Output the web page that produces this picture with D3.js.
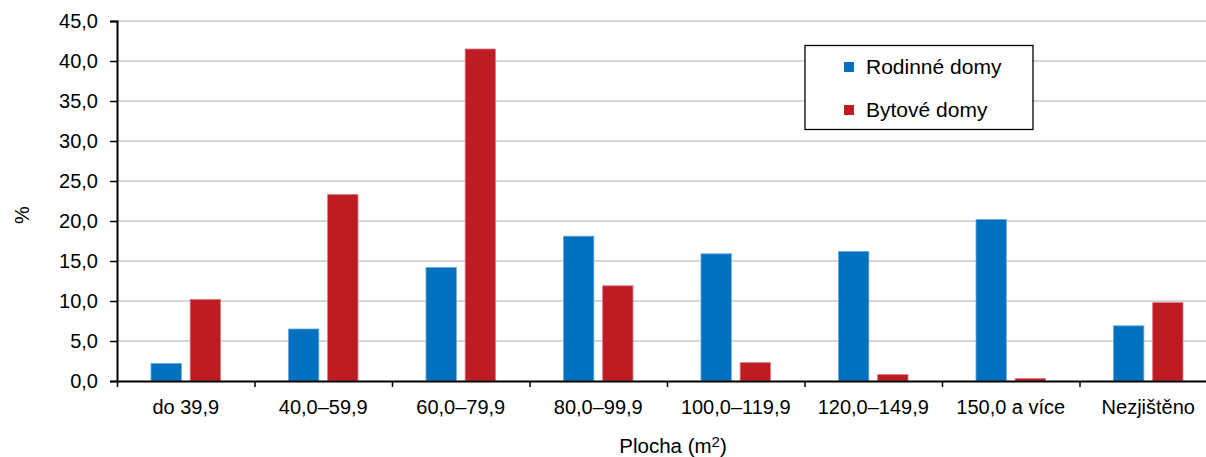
<!DOCTYPE html>
<html>
<head>
<meta charset="utf-8">
<script src="https://cdn.jsdelivr.net/npm/d3@7"></script>
<style>
  html, body { margin: 0; padding: 0; background: #fff; }
  svg { display: block; }
  text { font-family: "Liberation Sans", Arial, sans-serif; fill: #000; }
</style>
</head>
<body>
<svg id="chart" width="1206" height="457"></svg>
<script>
const categories = ["do 39,9", "40,0–59,9", "60,0–79,9", "80,0–99,9", "100,0–119,9", "120,0–149,9", "150,0 a více", "Nezjištěno"];
const seriesNames = ["Rodinné domy", "Bytové domy"];
const rodinneDomy = [2.2, 6.5, 14.2, 18.1, 15.9, 16.2, 20.2, 6.9];
const bytoveDomy = [10.2, 23.3, 41.5, 11.9, 2.3, 0.8, 0.3, 9.8];
const yTicks = [0, 5, 10, 15, 20, 25, 30, 35, 40, 45];
const yTickLabels = ["0,0", "5,0", "10,0", "15,0", "20,0", "25,0", "30,0", "35,0", "40,0", "45,0"];
const colors = ["#0070BF", "#BE1C23"];
const strokeColors = ["#6aa8dc", "#dc7a80"];

const svg = d3.select("#chart");
const fontSize = 20;
const plotLeft = 117, plotRight = 1217, plotTop = 21, plotBottom = 381;

const x0 = d3.scaleBand().domain(categories).range([plotLeft, plotRight]).padding(0);
const x1 = d3.scaleBand().domain(seriesNames).range([-34.75, 34.75]).paddingInner(0.225).paddingOuter(0);
const y = d3.scaleLinear().domain([0, 45]).range([plotBottom, plotTop]);

// gridlines
svg.append("g").selectAll("line").data(yTicks.filter(d => d > 0)).join("line")
  .attr("x1", plotLeft).attr("x2", plotRight)
  .attr("y1", d => y(d)).attr("y2", d => y(d))
  .attr("stroke", "#c9c9c9").attr("stroke-width", 1.3);

// bars
const data = categories.map((c, i) => ({ cat: c, vals: [rodinneDomy[i], bytoveDomy[i]] }));
const groups = svg.append("g").selectAll("g").data(data).join("g")
  .attr("transform", d => `translate(${x0(d.cat) + x0.bandwidth() / 2},0)`);
groups.selectAll("rect").data(d => d.vals.map((v, j) => ({ v, j }))).join("rect")
  .attr("x", d => x1(seriesNames[d.j]))
  .attr("width", x1.bandwidth())
  .attr("y", d => y(d.v))
  .attr("height", d => y(0) - y(d.v))
  .attr("fill", d => colors[d.j])
  .attr("stroke", d => strokeColors[d.j])
  .attr("stroke-width", 0.8);

// y axis
const yAxis = d3.axisLeft(y).tickValues(yTicks).tickFormat((d, i) => yTickLabels[i]).tickSize(7).tickPadding(12);
const gy = svg.append("g").attr("transform", `translate(${plotLeft},0)`).call(yAxis);
gy.select(".domain").attr("stroke", "#000").attr("stroke-width", 2);
gy.selectAll(".tick line").attr("stroke", "#000").attr("stroke-width", 1.5);
gy.selectAll(".tick text").attr("font-size", fontSize).attr("font-family", '"Liberation Sans", Arial, sans-serif').attr("fill", "#000");

// x axis: boundary ticks
const xb = d3.scaleLinear().domain([0, categories.length]).range([plotLeft, plotRight]);
const xAxisTicks = d3.axisBottom(xb).tickValues(d3.range(0, categories.length + 1)).tickFormat("").tickSize(6).tickSizeOuter(0);
const gxt = svg.append("g").attr("transform", `translate(0,${plotBottom})`).call(xAxisTicks);
gxt.select(".domain").attr("stroke", "#000").attr("stroke-width", 2);
gxt.selectAll(".tick line").attr("stroke", "#000").attr("stroke-width", 1.5);

// x labels
const xAxisLabels = d3.axisBottom(x0).tickSize(0).tickPadding(19);
const gxl = svg.append("g").attr("transform", `translate(0,${plotBottom})`).call(xAxisLabels);
gxl.select(".domain").remove();
gxl.selectAll(".tick text").attr("font-size", fontSize).attr("font-family", '"Liberation Sans", Arial, sans-serif').attr("fill", "#000");

// axis titles
svg.append("text").attr("transform", "translate(29,215) rotate(-90)")
  .attr("text-anchor", "middle").attr("font-size", fontSize).text("%");

const xt = svg.append("text").attr("x", 673).attr("y", 453).attr("text-anchor", "middle").attr("font-size", 20.5);
xt.append("tspan").text("Plocha (m");
xt.append("tspan").attr("font-size", 15).attr("dy", -6).text("2");
xt.append("tspan").attr("dy", 6).text(")");

// legend
const lg = svg.append("g");
lg.append("rect").attr("x", 805).attr("y", 45.5).attr("width", 228).attr("height", 84)
  .attr("fill", "#fff").attr("stroke", "#000").attr("stroke-width", 1.3);
seriesNames.forEach((s, i) => {
  const cy = 67 + i * 43;
  lg.append("rect").attr("x", 844).attr("y", cy - 5).attr("width", 10).attr("height", 10).attr("fill", colors[i]);
  lg.append("text").attr("x", 866).attr("y", cy).attr("dy", "0.35em").attr("font-size", 21).text(s);
});
</script>
</body>
</html>
